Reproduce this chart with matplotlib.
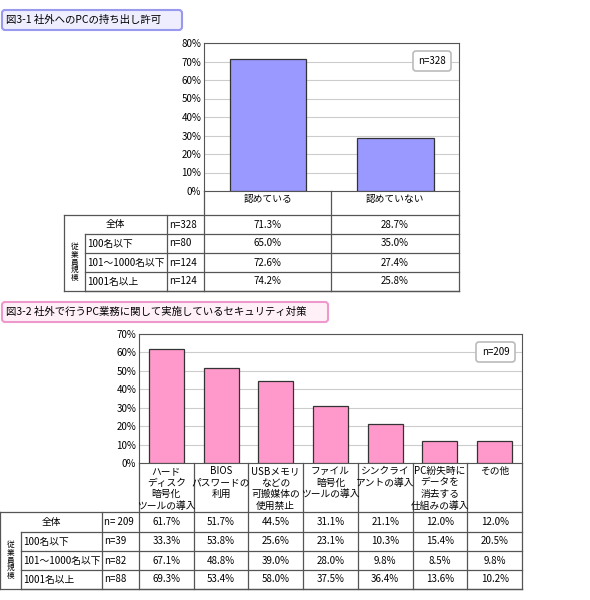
import matplotlib
matplotlib.use("Agg")
import matplotlib.pyplot as plt
from matplotlib.patches import FancyBboxPatch

plt.rcParams['font.family'] = ['Noto Sans CJK JP', 'DejaVu Sans']

# chart 1 data
title1 = "図3-1 社外へのPCの持ち出し許可"
cats1 = ["認めている", "認めていない"]
vals1 = [71.3, 28.7]
rows = ["全体", "100名以下", "101～1000名以下", "1001名以上"]
n1 = ["n=328", "n=80", "n=124", "n=124"]
table1 = [[71.3, 28.7], [65.0, 35.0], [72.6, 27.4], [74.2, 25.8]]

# chart 2 data
title2 = "図3-2 社外で行うPC業務に関して実施しているセキュリティ対策"
cats2 = ["ハード\nディスク\n暗号化\nツールの導入", "BIOS\nパスワードの\n利用", "USBメモリ\nなどの\n可搬媒体の\n使用禁止",
         "ファイル\n暗号化\nツールの導入", "シンクライ\nアントの導入", "PC紛失時に\nデータを\n消去する\n仕組みの導入", "その他"]
vals2 = [61.7, 51.7, 44.5, 31.1, 21.1, 12.0, 12.0]
n2 = ["n= 209", "n=39", "n=82", "n=88"]
table2 = [[61.7, 51.7, 44.5, 31.1, 21.1, 12.0, 12.0],
          [33.3, 53.8, 25.6, 23.1, 10.3, 15.4, 20.5],
          [67.1, 48.8, 39.0, 28.0, 9.8, 8.5, 9.8],
          [69.3, 53.4, 58.0, 37.5, 36.4, 13.6, 10.2]]

W, H = 590, 600
fig = plt.figure(figsize=(5.9, 6.0), dpi=100)
bg = fig.add_axes([0, 0, 1, 1])
bg.set_xlim(0, W)
bg.set_ylim(H, 0)
bg.axis("off")
bg.set_zorder(5)
bg.patch.set_visible(False)
FS = 7
LC = "#555555"


def pax(x0, y0, x1, y1):
    return fig.add_axes([x0 / W, 1 - y1 / H, (x1 - x0) / W, (y1 - y0) / H])


def hline(y, x0, x1):
    bg.plot([x0, x1], [y, y], color=LC, lw=0.9)


def vline(x, y0, y1):
    bg.plot([x, x], [y0, y1], color=LC, lw=0.9)


def title_box(x0, y0, x1, y1, text, ec, fc):
    bg.add_patch(FancyBboxPatch((x0, y0), x1 - x0, y1 - y0, boxstyle="round,pad=0,rounding_size=3",
                                ec=ec, fc=fc, lw=1.5))
    bg.text(x0 + 4, (y0 + y1) / 2, text, fontsize=7.5, va="center", ha="left")


def draw_chart(ax_box, cats, vals, ymax, color, ntext, nbox):
    x0, y0, x1, y1 = ax_box
    ax = pax(x0, y0, x1, y1)
    xs = range(len(cats))
    ax.bar(xs, vals, width=0.6 if len(cats) == 2 else 0.64, color=color, edgecolor="#333333", lw=0.9, zorder=3)
    ax.set_xlim(-0.5, len(cats) - 0.5)
    ax.set_ylim(0, ymax)
    ax.set_yticks(range(0, ymax + 1, 10))
    ax.set_yticklabels([f"{t}%" for t in range(0, ymax + 1, 10)], fontsize=FS)
    ax.set_xticks([])
    ax.tick_params(axis="y", length=0, pad=2)
    ax.grid(axis="y", color="#cccccc", lw=0.8, zorder=0)
    for s in ax.spines.values():
        s.set_color(LC)
    bx0, by0, bx1, by1 = nbox
    bg.add_patch(FancyBboxPatch((bx0, by0), bx1 - bx0, by1 - by0, boxstyle="round,pad=0,rounding_size=3",
                                ec="#bbbbbb", fc="white", lw=1.2, zorder=5))
    bg.text((bx0 + bx1) / 2, (by0 + by1) / 2, ntext, fontsize=FS, ha="center", va="center", zorder=6)


def draw_table(cols, yrows, tleft, gcol, lcol, cats, ns, table, lab_top):
    # category label cells
    for i in range(len(cats)):
        bg.text((cols[i] + cols[i + 1]) / 2, lab_top + 3, cats[i], fontsize=FS, ha="center", va="top",
                linespacing=1.2)
    for x in cols:
        vline(x, lab_top, yrows[-1])
    hline(yrows[0], tleft, cols[-1])
    for y in yrows[1:]:
        hline(y, gcol, cols[-1])
    hline(yrows[-1], tleft, cols[-1])
    vline(tleft, yrows[0], yrows[-1])
    vline(gcol, yrows[1], yrows[-1])
    vline(lcol, yrows[0], yrows[-1])
    for r in range(len(ns)):
        yc = (yrows[r] + yrows[r + 1]) / 2
        if r == 0:
            bg.text((tleft + lcol) / 2, yc, rows[0], fontsize=FS, ha="center", va="center")
        else:
            bg.text(gcol + 2, yc, rows[r], fontsize=FS, ha="left", va="center")
        bg.text(lcol + 2, yc, ns[r], fontsize=FS, ha="left", va="center")
        for c, v in enumerate(table[r]):
            bg.text((cols[c] + cols[c + 1]) / 2, yc, f"{v:.1f}%", fontsize=FS, ha="center", va="center")
    bg.text((tleft + gcol) / 2, (yrows[1] + yrows[-1]) / 2, "従\n業\n員\n規\n模", fontsize=5.5,
            ha="center", va="center", linespacing=0.95)


# chart 1
title_box(2, 10, 182, 30, title1, "#9999ee", "#eeeeff")
draw_chart((204, 43, 459, 191), cats1, vals1, 80, "#9999ff", "n=328", (413, 51, 451, 71))
draw_table([204, 331, 459], [215, 234, 253, 272, 291], 64, 85, 167, cats1, n1, table1, 191)

# chart 2
title_box(2, 302, 328, 322, title2, "#ee99cc", "#fff0f8")
draw_chart((139, 334, 522, 463), cats2, vals2, 70, "#ff99cc", "n=209", (476, 342, 515, 362))
cols2 = [139 + i * (522 - 139) / 7 for i in range(8)]
draw_table(cols2, [512, 532, 551, 570, 589], 0, 21, 102, cats2, n2, table2, 463)

fig.savefig("out.png", dpi=100)
